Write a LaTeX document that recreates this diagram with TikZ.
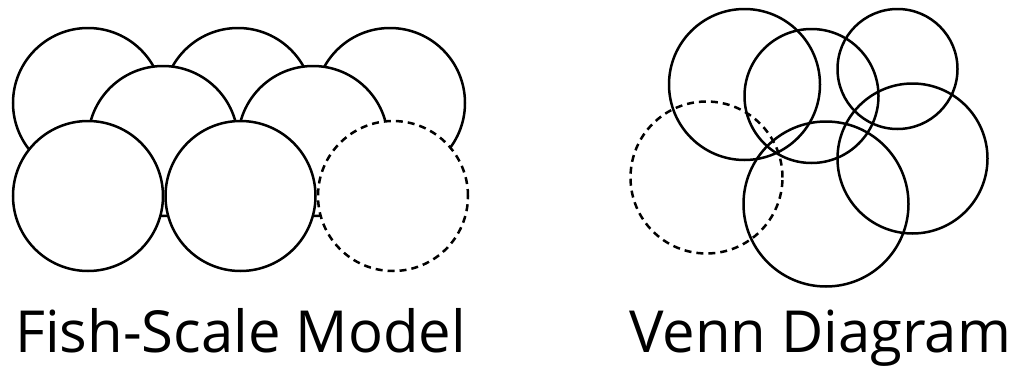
\documentclass[tikz,border=0pt]{standalone}
\usepackage{fontspec}
\setmainfont{Open Sans}
\usetikzlibrary{positioning}
\tikzset{
	fishscale/.style={
		draw, circle, minimum size=150pt,
		inner sep=0pt, fill=white, line width=2.5pt
	},
	venncircle/.style={
		draw, circle, inner sep=0pt, line width=2.5pt
	},
	missing/.style={dash pattern=on 7pt off 5pt},
	caption/.style={font=\fontsize{58}{68}\selectfont, anchor=base west, inner sep=0pt}
}
\begin{document}
\begin{tikzpicture}[x=1pt,y=-1pt]
				\useasboundingbox (0,0) rectangle (1029,367);
				% fish-scale model, back row first
				\node[fishscale] (t1) at (88,103) {};
				\node[fishscale] (t2) at (238,103) {};
				\node[fishscale] (t3) at (390,103) {};
				\node[fishscale] (m1) at (163,141) {};
				\node[fishscale] (m2) at (313,141) {};
				\node[fishscale] (b1) at (88,196) {};
				\node[fishscale] (b2) [right=0pt of b1] {};
				\node[fishscale,missing] (b3) [right=0pt of b2] {};
				% venn diagram
				\node[venncircle,minimum size=151pt] (va) at (744.5,84.5) {};
				\node[venncircle,minimum size=134pt] (vb) at (811.5,96) {};
				\node[venncircle,minimum size=120pt] (vc) at (897.5,69) {};
				\node[venncircle,minimum size=150pt] (vd) at (912.5,158.5) {};
				\node[venncircle,minimum size=165pt] (ve) at (826,204) {};
				\node[venncircle,missing,minimum size=152pt] (vf) at (706.5,177.5) {};
				% captions
				\node[caption] (fishlabel) at (15,352) {Fish-Scale Model};
				\node[caption] (vennlabel) at (629,352) {Venn Diagram};
			\end{tikzpicture}
\end{document}
